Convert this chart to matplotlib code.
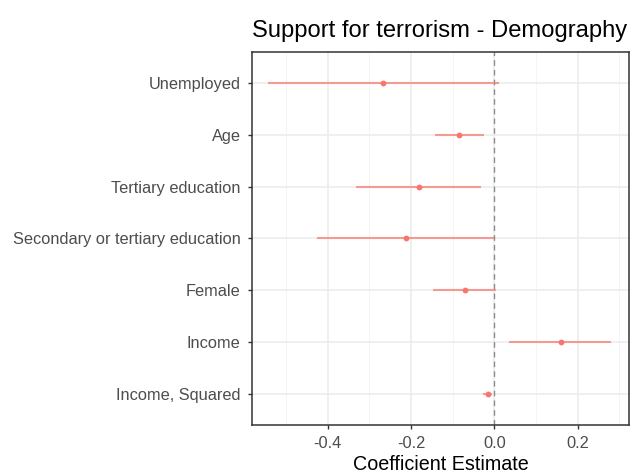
import matplotlib
matplotlib.use("Agg")
import matplotlib.pyplot as plt
from matplotlib.ticker import MultipleLocator

plt.rcParams['font.family'] = ['Liberation Sans', 'DejaVu Sans']

categories = ["Unemployed", "Age", "Tertiary education",
              "Secondary or tertiary education", "Female", "Income",
              "Income, Squared"]
estimate = [-0.268, -0.084, -0.182, -0.212, -0.070, 0.160, -0.016]
lower = [-0.543, -0.1425, -0.333, -0.425, -0.147, 0.035, -0.026]
upper = [0.011, -0.025, -0.032, 0.000, 0.003, 0.280, -0.005]

fig = plt.figure(figsize=(6.36, 4.74), dpi=100)
ax = fig.add_axes([0.3958, 0.1034, 0.9895 - 0.3958, 0.8903 - 0.1034])

n = len(categories)
ypos = [n - 1 - i for i in range(n)]

ax.set_xlim(-0.583, 0.3245)
ax.set_ylim(-0.6, n - 1 + 0.6)

ax.xaxis.set_minor_locator(MultipleLocator(0.1))
ax.set_xticks([-0.4, -0.2, 0.0, 0.2])
ax.set_xticklabels(["-0.4", "-0.2", "0.0", "0.2"])
ax.set_yticks(ypos)
ax.set_yticklabels(categories)

ax.grid(which='major', color='#EBEBEB', linewidth=1.1, zorder=0)
ax.grid(which='minor', axis='x', color='#F2F2F2', linewidth=0.6, zorder=0)
ax.set_axisbelow(True)

ax.axvline(0, color='#8C8C8C', linestyle=(0, (4, 3)), linewidth=1.0, zorder=1)

for y, e, lo, hi in zip(ypos, estimate, lower, upper):
    ax.plot([lo, hi], [y, y], color='#F8766D', alpha=0.7, linewidth=1.5,
            solid_capstyle='butt', zorder=2)
ax.plot(estimate, ypos, 'o', color='#F8766D', markersize=4.2, zorder=3,
        markeredgewidth=0)

for s in ax.spines.values():
    s.set_color('#333333')
    s.set_linewidth(1.1)

ax.tick_params(axis='both', which='major', length=3, width=1, color='#333333',
               labelcolor='#4D4D4D', labelsize=11.75)
ax.tick_params(axis='y', pad=5)
ax.tick_params(axis='x', pad=5)
ax.tick_params(axis='x', which='minor', length=0)

ax.set_xlabel("Coefficient Estimate", fontsize=14.2, color='black', labelpad=3)
fig.text(251.7, 474 - 36.7, "Support for terrorism - Demography", fontsize=17.1,
         color='black', ha='left', va='baseline', transform=None)

fig.savefig("out.png", dpi=100)
